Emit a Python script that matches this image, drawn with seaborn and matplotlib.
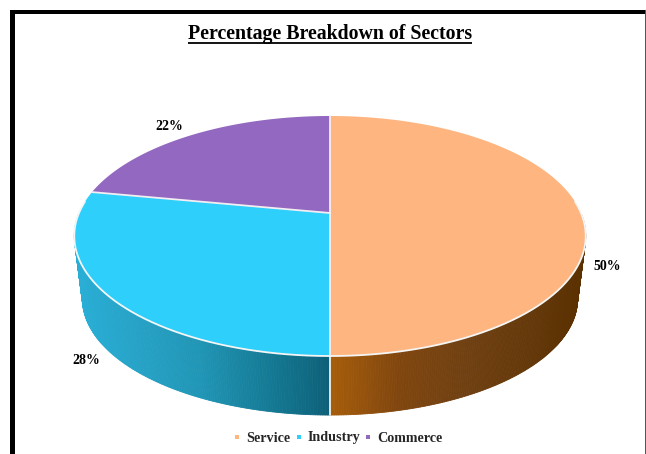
import numpy as np
import pandas as pd
import seaborn as sns
from matplotlib import pyplot as plt
from matplotlib.patches import Rectangle

sectors = ["Service", "Industry", "Commerce"]
shares = [50, 28, 22]
labels = ["50%", "28%", "22%"]
top_colors = ["#FFB580", "#2ECFFB", "#9368C0"]

# where the % labels sit, in pixels
label_pos = [(607, 266), (86, 360), (169, 127)]

# shading of the side wall, left to right
wall_x = {
    "Service": [330, 400, 470, 560, 590],
    "Industry": [70, 200, 280, 330],
    "Commerce": [70, 330],
}
wall_rgb = {
    "Service": ["#A85E0A", "#80460F", "#6F4012", "#5F3405", "#5A3000"],
    "Industry": ["#2BB0D8", "#2196B6", "#137690", "#0E6078"],
    "Commerce": ["#6A4A90", "#6A4A90"],
}

sns.set_theme(style="white")
plt.rcParams["font.family"] = ["Liberation Serif", "DejaVu Serif"]

fig = plt.figure(figsize=(6.46, 4.54), dpi=100)
ax = fig.add_axes([0, 0, 1, 1])
ax.set_xlim(0, 646)
ax.set_ylim(454, 0)


# the pie is tilted in perspective, so its middle is not the middle of the ellipse
def project(theta, cy=213.0, scale=1.0):
    u, v = np.sin(theta), np.cos(theta)
    w = 1 + 0.1917 * v
    return 330 + scale * 251 * u / w, cy - scale * 115.6 * v / w


def to_rgb(hexes):
    return np.array([plt.matplotlib.colors.to_rgb(h) for h in hexes])


edges = np.cumsum([0] + shares) / sum(shares) * 2 * np.pi
mids = (edges[:-1] + edges[1:]) / 2

# hidden anchors under the top face, they give the legend its markers
mx, my = project(mids, scale=0.5)
df = pd.DataFrame({"x": mx, "y": my, "sector": sectors})
sns.scatterplot(data=df, x="x", y="y", hue="sector", hue_order=sectors,
                palette=top_colors, s=12, marker="s", linewidth=0, ax=ax, zorder=1)

# side wall, front half only
for i, name in enumerate(sectors):
    th = np.arange(edges[i], edges[i + 1] + 0.004, 0.008)
    th = th[np.cos(th) < 0]
    x0, y0 = project(th)
    x1, y1 = project(th, cy=276.6, scale=0.968)
    rgb = to_rgb(wall_rgb[name])
    for j in range(len(th) - 1):
        xm = (x0[j] + x1[j]) / 2
        c = [np.interp(xm, wall_x[name], rgb[:, k]) for k in range(3)]
        ax.fill([x0[j], x0[j + 1], x1[j + 1], x1[j]],
                [y0[j], y0[j + 1], y1[j + 1], y1[j]],
                color=c, lw=0.6, zorder=2)

# front seam on the wall
xa, ya = project(np.pi)
xb, yb = project(np.pi, cy=276.6, scale=0.968)
ax.plot([xa, xb], [ya, yb], color="#E8E4DE", lw=1.4, zorder=3)

# top face
for i, name in enumerate(sectors):
    th = np.linspace(edges[i], edges[i + 1], 200)
    x, y = project(th)
    ax.fill(np.r_[330, x], np.r_[213, y], color=top_colors[i], lw=0, zorder=4)

# white lines between slices and on the front rim
for e in edges[:-1]:
    x, y = project(e)
    ax.plot([330, x], [213, y], color="#F2EEF2", lw=1.3, zorder=5)
rim = np.linspace(np.pi / 2 - 0.1, 3 * np.pi / 2 + 0.1, 300)
ax.plot(*project(rim), color="#F4F6F6", lw=1.3, zorder=5)

for (lx, ly), txt in zip(label_pos, labels):
    ax.text(lx, ly, txt, ha="center", va="center", fontsize=10,
            fontweight="bold", color="black", zorder=6)

ax.text(330, 34, "Percentage Breakdown of Sectors", ha="center", va="center",
        fontsize=14.3, fontweight="bold", color="black")
ax.plot([188, 472], [42.5, 42.5], color="black", lw=1.3, solid_capstyle="butt")

# frame of the original screenshot
ax.add_patch(Rectangle((10, 10), 5, 444, color="black", lw=0, zorder=7))
ax.add_patch(Rectangle((10, 10), 636, 4, color="black", lw=0, zorder=7))
ax.add_patch(Rectangle((644.5, 10), 1.5, 444, color="#555555", lw=0, zorder=7))

sns.move_legend(ax, "center", bbox_to_anchor=(338 / 646, 1 - 438 / 454), ncol=3,
                title=None, frameon=False, handlelength=0.5, handletextpad=0.35,
                columnspacing=0.35,
                prop={"weight": "bold", "size": 10.2, "family": "Liberation Serif"})

ax.set_axis_off()
fig.savefig("out.png", dpi=100, facecolor="white")
plt.close(fig)
